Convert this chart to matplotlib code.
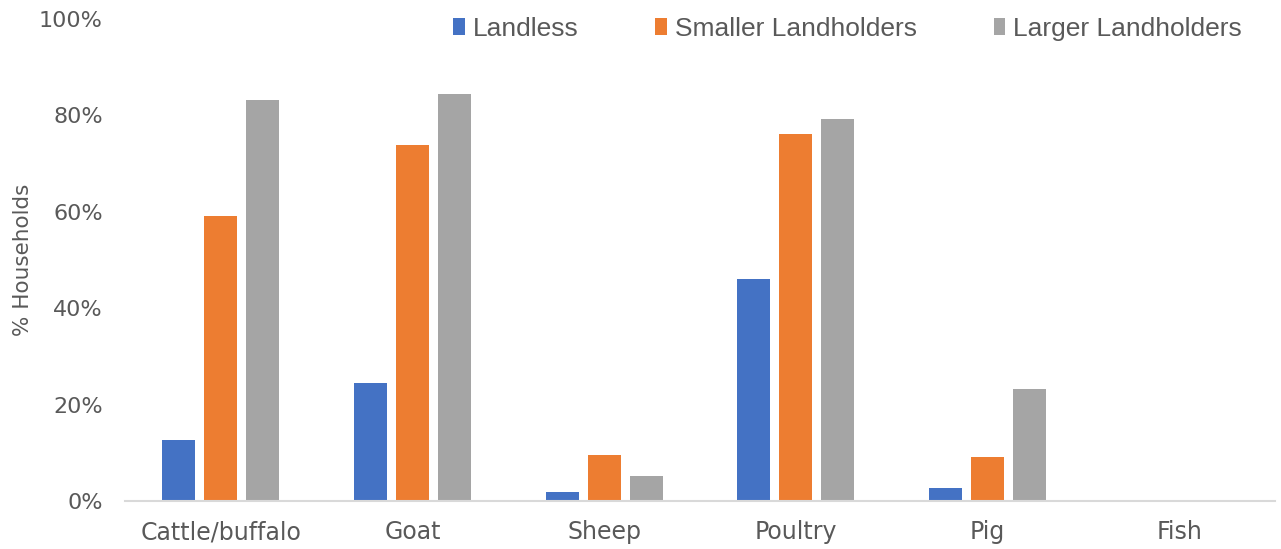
import matplotlib
matplotlib.use("Agg")
import matplotlib.pyplot as plt
import numpy as np
from matplotlib.ticker import PercentFormatter

categories = ["Cattle/buffalo", "Goat", "Sheep", "Poultry", "Pig", "Fish"]
landless = [12.7, 24.5, 1.9, 46.1, 2.8, 0.0]
smaller = [59.2, 73.9, 9.6, 76.1, 9.2, 0.0]
larger = [83.2, 84.5, 5.1, 79.3, 23.3, 0.0]
series_names = ["Landless", "Smaller Landholders", "Larger Landholders"]
colors = ["#4472C4", "#ED7D31", "#A5A5A5"]

plt.rcParams['font.family'] = ['DejaVu Sans']
fig = plt.figure(figsize=(12.81, 5.49), dpi=100)
ax = fig.add_axes([0.0976, 0.0874, 0.8977, 0.878])

x = np.arange(len(categories))
w = 0.172
step = 0.219
for i, (vals, name, c) in enumerate(zip([landless, smaller, larger], series_names, colors)):
    ax.bar(x + (i - 1) * step, vals, width=w, color=c, label=name)

ax.set_xlim(-0.5, len(categories) - 0.5)
ax.set_ylim(0, 100)
ax.set_yticks([0, 20, 40, 60, 80, 100])
ax.yaxis.set_major_formatter(PercentFormatter(decimals=0))
ax.set_xticks(x)
ax.set_xticklabels(categories)
ax.tick_params(axis='both', length=0, colors='#595959')
ax.tick_params(axis='x', pad=14, labelsize=17)
ax.tick_params(axis='y', pad=16, labelsize=16)
for s in ['top', 'right', 'left']:
    ax.spines[s].set_visible(False)
ax.spines['bottom'].set_color('#D9D9D9')
ax.spines['bottom'].set_linewidth(1.5)
ax.set_ylabel("% Households", fontsize=15.5, color='#595959')
ax.yaxis.set_label_coords(-0.08, 0.5)

leg = fig.legend(ncol=3, loc='center right', bbox_to_anchor=(0.9696, 1 - 29 / 549),
                 frameon=False, borderpad=0, borderaxespad=0,
                 handlelength=0.45, handleheight=0.6, handletextpad=0.3,
                 columnspacing=2.9,
                 prop={'family': ['Liberation Sans Narrow', 'Liberation Sans'], 'size': 19})
for t in leg.get_texts():
    t.set_color('#595959')

fig.savefig("out.png", dpi=100)
